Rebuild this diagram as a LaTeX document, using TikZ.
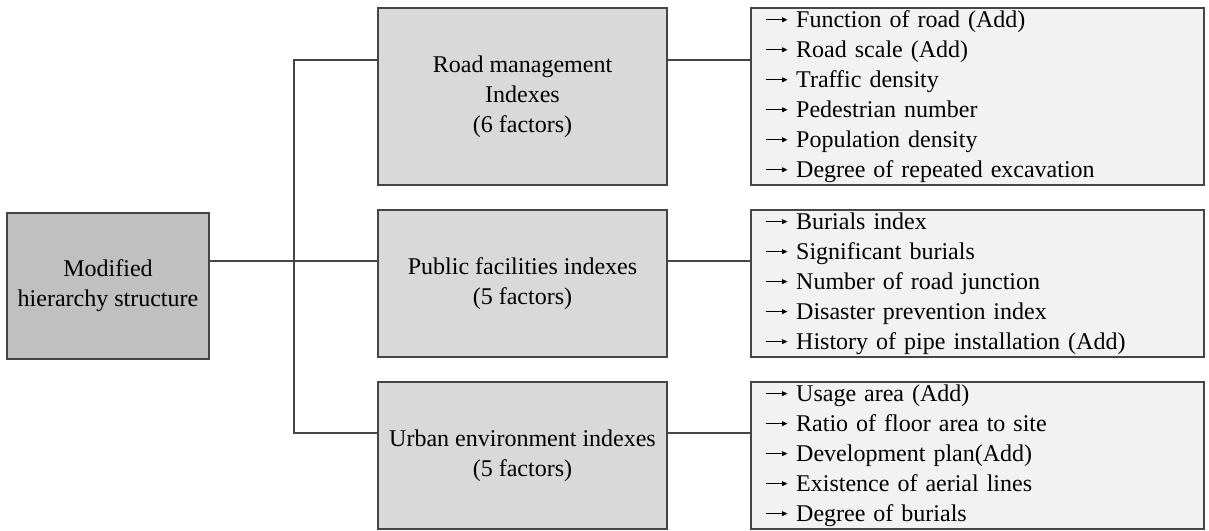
\documentclass[tikz,border=0pt]{standalone}
\usepackage{fontspec}
\setmainfont{Liberation Serif}
\usepackage{xcolor}
\usepackage{tikz}
\usetikzlibrary{positioning,calc,arrows.meta}
\definecolor{rootFill}{HTML}{C0C0C0}
\definecolor{groupFill}{HTML}{D9D9D9}
\definecolor{listFill}{HTML}{F2F2F2}
\definecolor{edgeGray}{HTML}{454545}
\newcommand{\factorarrow}{\tikz[baseline=-3.8pt]\draw[-{Triangle[length=2.8pt,width=2.4pt]},line width=0.6pt] (0pt,0pt) -- (11pt,0pt);\hspace{4pt}}

\begin{document}
\begin{tikzpicture}[x=0.5pt,y=-0.5pt,
  every node/.style={font=\fontsize{12}{15}\selectfont},
  box/.style={draw=edgeGray,line width=1pt,inner sep=0pt,align=center},
  rootbox/.style={box,fill=rootFill,minimum width=101pt,minimum height=73pt},
  groupbox/.style={box,fill=groupFill,minimum width=144.5pt},
  listbox/.style={box,fill=listFill,align=left,text width=212.5pt,inner xsep=7pt},
  link/.style={edgeGray,line width=1pt}]
  \useasboundingbox (0,0) rectangle (1209,530);
  % left: the whole structure
  \node[rootbox] (hier) at (108,286) {Modified\\hierarchy structure};
  % middle: index groups
  \node[groupbox,minimum height=88.5pt] (rm) at (522.5,96.5) {Road management\\Indexes\\(6 factors)};
  \node[groupbox,minimum height=73.5pt] (pf) at (522.5,283.5) {Public facilities indexes\\(5 factors)};
  \node[groupbox,minimum height=73.5pt] (ue) at (522.5,455.5) {Urban environment indexes\\(5 factors)};
  % right: factor lists
  \node[listbox,minimum height=88.5pt] (rmList) at (977.5,96.5) {\factorarrow Function of road (Add)\\\factorarrow Road scale (Add)\\\factorarrow Traffic density\\\factorarrow Pedestrian number\\\factorarrow Population density\\\factorarrow Degree of repeated excavation};
  \node[listbox,minimum height=73.5pt] (pfList) at (977.5,283.5) {\factorarrow Burials index\\\factorarrow Significant burials\\\factorarrow Number of road junction\\\factorarrow Disaster prevention index\\\factorarrow History of pipe installation (Add)};
  \node[listbox,minimum height=73.5pt] (ueList) at (977.5,455.5) {\factorarrow Usage area (Add)\\\factorarrow Ratio of floor area to site\\\factorarrow Development plan(Add)\\\factorarrow Existence of aerial lines\\\factorarrow Degree of burials};
  % connectors
  \coordinate (spineTop) at (294,60);
  \coordinate (spineMid) at (294,261);
  \coordinate (spineBot) at (294,433);
  \draw[link] (hier.east |- spineMid) -- (spineMid);
  \draw[link] (rm.west |- spineTop) -- (spineTop) -- (spineBot) -- (ue.west |- spineBot);
  \draw[link] (spineMid) -- (pf.west |- spineMid);
  \foreach \g/\l/\s in {rm/rmList/spineTop,pf/pfList/spineMid,ue/ueList/spineBot}{
    \draw[link] (\g.east |- \s) -- (\l.west |- \s);
  }
\end{tikzpicture}
\end{document}
